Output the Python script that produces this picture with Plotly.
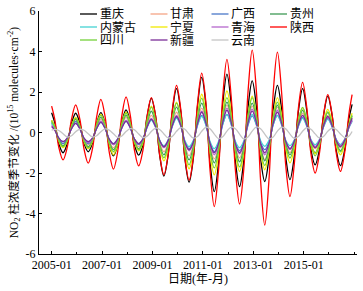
import plotly.graph_objects as go

# x positions: start (2005-01), then every second month (Feb, Apr, Jun, Aug, Oct, Dec)
YEARS = list(range(2005, 2017))
DATES = ["2005-01-01"]
for y in YEARS:
    for md in ["02-15", "04-15", "06-15", "08-15", "10-15", "12-15"]:
        DATES.append(f"{y}-{md}")
DATES[-1] = "2016-12-01"

NAMES = ["重庆", "甘肃", "广西", "贵州", "内蒙古", "宁夏", "青海", "陕西", "四川", "新疆", "云南"]
COLORS = ["#000000", "#F4A585", "#4A78C8", "#3E9A55", "#45D3D3", "#F2EA00",
          "#B566CC", "#FF0000", "#74D13A", "#7A2E98", "#C4C4C4"]

# values: Jan-2005, then per year Feb, Apr, Jun, Aug, Oct, Dec
chongqing = [0.98,
    0.49, -0.55, -1.00, -0.55, 0.43, 0.95,
    0.43, -0.53, -0.95, -0.53, 0.44, 0.98,
    0.44, -0.63, -1.15, -0.63, 0.51, 1.11,
    0.51, -0.61, -1.12, -0.61, 0.80, 1.69,
    0.80, -1.13, -2.15, -1.13, 1.04, 2.17,
    1.04, -1.28, -2.45, -1.28, 1.31, 2.72,
    1.31, -1.51, -2.92, -1.51, 1.39, 2.88,
    1.39, -1.39, -2.67, -1.39, 1.23, 2.55,
    1.23, -1.26, -2.42, -1.26, 1.12, 2.33,
    1.12, -1.22, -2.33, -1.22, 1.04, 2.17,
    1.04, -0.85, -1.60, -0.85, 0.85, 1.80,
    0.85, -0.87, -1.64, -0.87, 0.65, 1.39]
gansu = [0.45,
    0.20, -0.33, -0.55, -0.33, 0.23, 0.55,
    0.23, -0.35, -0.60, -0.35, 0.28, 0.65,
    0.28, -0.43, -0.75, -0.43, 0.33, 0.75,
    0.33, -0.40, -0.70, -0.40, 0.38, 0.85,
    0.38, -0.53, -0.95, -0.53, 0.45, 1.00,
    0.45, -0.63, -1.15, -0.63, 0.55, 1.20,
    0.55, -0.70, -1.30, -0.70, 0.63, 1.35,
    0.63, -0.68, -1.25, -0.68, 0.60, 1.30,
    0.60, -0.72, -1.34, -0.72, 0.58, 1.25,
    0.58, -0.55, -1.00, -0.55, 0.43, 0.95,
    0.43, -0.45, -0.80, -0.45, 0.38, 0.85,
    0.38, -0.43, -0.75, -0.43, 0.30, 0.70]
guangxi = [0.50,
    0.23, -0.33, -0.55, -0.33, 0.23, 0.55,
    0.23, -0.33, -0.55, -0.33, 0.23, 0.55,
    0.23, -0.35, -0.60, -0.35, 0.25, 0.60,
    0.25, -0.35, -0.60, -0.35, 0.28, 0.65,
    0.28, -0.40, -0.70, -0.40, 0.33, 0.75,
    0.33, -0.45, -0.80, -0.45, 0.38, 0.85,
    0.38, -0.53, -0.95, -0.53, 0.40, 0.90,
    0.40, -0.50, -0.90, -0.50, 0.36, 0.82,
    0.36, -0.48, -0.85, -0.48, 0.38, 0.85,
    0.38, -0.45, -0.80, -0.45, 0.33, 0.75,
    0.33, -0.40, -0.70, -0.40, 0.30, 0.70,
    0.30, -0.35, -0.60, -0.35, 0.25, 0.60]
guizhou = [0.60,
    0.28, -0.38, -0.65, -0.38, 0.28, 0.65,
    0.28, -0.40, -0.70, -0.40, 0.33, 0.75,
    0.33, -0.48, -0.85, -0.48, 0.38, 0.85,
    0.38, -0.45, -0.80, -0.45, 0.48, 1.05,
    0.48, -0.60, -1.10, -0.60, 0.58, 1.25,
    0.58, -0.73, -1.35, -0.73, 0.68, 1.45,
    0.68, -0.80, -1.50, -0.80, 0.70, 1.50,
    0.70, -0.78, -1.45, -0.78, 0.68, 1.45,
    0.68, -0.75, -1.40, -0.75, 0.63, 1.35,
    0.63, -0.60, -1.10, -0.60, 0.50, 1.10,
    0.50, -0.55, -1.00, -0.55, 0.45, 1.00,
    0.45, -0.50, -0.90, -0.50, 0.35, 0.80]
neimenggu = [0.45,
    0.20, -0.28, -0.45, -0.28, 0.18, 0.45,
    0.18, -0.30, -0.50, -0.30, 0.20, 0.50,
    0.20, -0.33, -0.55, -0.33, 0.23, 0.55,
    0.23, -0.33, -0.55, -0.33, 0.25, 0.60,
    0.25, -0.38, -0.65, -0.38, 0.30, 0.70,
    0.30, -0.40, -0.70, -0.40, 0.35, 0.80,
    0.35, -0.45, -0.80, -0.45, 0.40, 0.90,
    0.40, -0.43, -0.75, -0.43, 0.40, 0.90,
    0.40, -0.39, -0.68, -0.39, 0.38, 0.85,
    0.38, -0.38, -0.65, -0.38, 0.30, 0.70,
    0.30, -0.35, -0.60, -0.35, 0.28, 0.65,
    0.28, -0.35, -0.60, -0.35, 0.23, 0.55]
ningxia = [0.60,
    0.30, -0.43, -0.75, -0.43, 0.33, 0.75,
    0.33, -0.45, -0.80, -0.45, 0.40, 0.90,
    0.40, -0.60, -1.10, -0.60, 0.45, 1.00,
    0.45, -0.50, -0.90, -0.50, 0.60, 1.30,
    0.60, -0.75, -1.40, -0.75, 0.70, 1.50,
    0.70, -0.95, -1.80, -0.95, 0.90, 1.89,
    0.90, -1.10, -2.09, -1.10, 0.98, 2.05,
    0.98, -1.01, -1.92, -1.01, 0.85, 1.80,
    0.85, -0.97, -1.84, -0.97, 0.81, 1.72,
    0.81, -0.80, -1.50, -0.80, 0.57, 1.23,
    0.57, -0.58, -1.05, -0.58, 0.52, 1.14,
    0.52, -0.60, -1.10, -0.60, 0.43, 0.95]
qinghai = [0.35,
    0.15, -0.28, -0.45, -0.28, 0.18, 0.45,
    0.18, -0.30, -0.50, -0.30, 0.23, 0.55,
    0.23, -0.35, -0.60, -0.35, 0.25, 0.60,
    0.25, -0.33, -0.55, -0.33, 0.30, 0.70,
    0.30, -0.43, -0.75, -0.43, 0.38, 0.85,
    0.38, -0.50, -0.90, -0.50, 0.48, 1.05,
    0.48, -0.60, -1.10, -0.60, 0.55, 1.20,
    0.55, -0.58, -1.05, -0.58, 0.53, 1.15,
    0.53, -0.60, -1.10, -0.60, 0.50, 1.10,
    0.50, -0.48, -0.85, -0.48, 0.38, 0.85,
    0.38, -0.40, -0.70, -0.40, 0.33, 0.75,
    0.33, -0.38, -0.65, -0.38, 0.25, 0.60]
shaanxi = [1.30,
    0.66, -0.73, -1.35, -0.73, 0.63, 1.36,
    0.63, -0.81, -1.51, -0.81, 0.77, 1.64,
    0.77, -0.96, -1.81, -0.96, 0.83, 1.76,
    0.83, -0.88, -1.65, -0.88, 0.81, 1.72,
    0.81, -1.10, -2.09, -1.10, 1.12, 2.33,
    1.12, -1.23, -2.35, -1.23, 1.42, 2.93,
    1.42, -1.88, -3.66, -1.88, 1.76, 3.61,
    1.76, -1.82, -3.53, -1.82, 1.99, 4.07,
    1.99, -2.34, -4.57, -2.34, 1.94, 3.97,
    1.94, -1.63, -3.16, -1.63, 1.19, 2.48,
    1.19, -1.05, -2.00, -1.05, 0.89, 1.87,
    0.89, -1.01, -1.92, -1.01, 0.89, 1.87]
sichuan = [0.55,
    0.28, -0.40, -0.70, -0.40, 0.30, 0.70,
    0.30, -0.43, -0.75, -0.43, 0.38, 0.85,
    0.38, -0.53, -0.95, -0.53, 0.43, 0.95,
    0.43, -0.48, -0.85, -0.48, 0.58, 1.25,
    0.58, -0.68, -1.25, -0.68, 0.68, 1.45,
    0.68, -0.85, -1.60, -0.85, 0.80, 1.70,
    0.80, -0.93, -1.75, -0.93, 0.81, 1.72,
    0.81, -0.90, -1.70, -0.90, 0.81, 1.72,
    0.81, -0.87, -1.63, -0.87, 0.70, 1.50,
    0.70, -0.68, -1.26, -0.68, 0.57, 1.24,
    0.57, -0.63, -1.15, -0.63, 0.45, 1.00,
    0.45, -0.53, -0.95, -0.53, 0.38, 0.85]
xinjiang = [0.30,
    0.12, -0.28, -0.45, -0.28, 0.18, 0.45,
    0.18, -0.28, -0.45, -0.28, 0.20, 0.50,
    0.20, -0.33, -0.55, -0.33, 0.23, 0.55,
    0.23, -0.33, -0.55, -0.33, 0.28, 0.65,
    0.28, -0.40, -0.70, -0.40, 0.35, 0.80,
    0.35, -0.48, -0.85, -0.48, 0.45, 1.00,
    0.45, -0.55, -1.00, -0.55, 0.50, 1.10,
    0.50, -0.55, -1.00, -0.55, 0.48, 1.06,
    0.48, -0.55, -1.00, -0.55, 0.45, 1.00,
    0.45, -0.45, -0.80, -0.45, 0.38, 0.85,
    0.38, -0.43, -0.75, -0.43, 0.35, 0.80,
    0.35, -0.40, -0.70, -0.40, 0.30, 0.70]
yunnan = [0.12,
    0.15, 0.10, -0.06, -0.22, -0.16, 0.04,
    0.16, 0.11, -0.06, -0.22, -0.16, 0.04,
    0.18, 0.12, -0.06, -0.24, -0.17, 0.05,
    0.19, 0.13, -0.07, -0.25, -0.18, 0.05,
    0.22, 0.15, -0.07, -0.27, -0.19, 0.06,
    0.24, 0.16, -0.08, -0.28, -0.20, 0.06,
    0.26, 0.18, -0.08, -0.30, -0.21, 0.07,
    0.27, 0.19, -0.08, -0.31, -0.22, 0.07,
    0.28, 0.19, -0.08, -0.31, -0.22, 0.07,
    0.26, 0.18, -0.08, -0.29, -0.20, 0.06,
    0.24, 0.16, -0.07, -0.27, -0.19, 0.06,
    0.22, 0.15, -0.07, -0.25, -0.18, 0.05]

SERIES = [chongqing, gansu, guangxi, guizhou, neimenggu, ningxia, qinghai,
          shaanxi, sichuan, xinjiang, yunnan]

X_TICKS = ["2005-01-01", "2007-01-01", "2009-01-01", "2011-01-01", "2013-01-01", "2015-01-01"]
X_LABELS = ["2005-01", "2007-01", "2009-01", "2011-01", "2013-01", "2015-01"]
Y_TICKS = [-6, -4, -2, 0, 2, 4, 6]
Y_LABELS = ["-6", "-4", "-2", "0", "2", "4", "6"]

FONT = "Liberation Serif, Noto Sans CJK SC, serif"
W, H = 363, 291
ML, MR, MT, MB = 39, 6, 11, 37
PW = W - ML - MR
PH = H - MT - MB

fig = go.Figure()
for name, vals, col in zip(NAMES, SERIES, COLORS):
    fig.add_trace(go.Scatter(x=DATES, y=vals, name=name, mode="lines",
                             line=dict(color=col, width=1.3, shape="spline", smoothing=1.0),
                             showlegend=False))

# custom legend (4 columns x 3 rows)
col_x = [80, 150.5, 211.5, 270]
row_y = [14, 27, 40]


def px(v):
    return (v - ML) / PW


def py(v):
    return (H - MB - v) / PH


shapes = []
annotations = []
for i, (name, col) in enumerate(zip(NAMES, COLORS)):
    c, r = i % 4, i // 4
    x0 = col_x[c]
    x1 = x0 + 17
    yy = row_y[r]
    shapes.append(dict(type="line", xref="paper", yref="paper",
                       x0=px(x0), x1=px(x1), y0=py(yy), y1=py(yy),
                       line=dict(color=col, width=1.3)))
    annotations.append(dict(xref="paper", yref="paper", x=px(x1 + 0.5), y=py(yy),
                            xanchor="left", yanchor="middle", text=name, showarrow=False,
                            font=dict(family=FONT, size=12, color="#000")))

fig.update_layout(
    width=W, height=H,
    margin=dict(l=ML, r=MR, t=MT, b=MB),
    paper_bgcolor="white", plot_bgcolor="white",
    font=dict(family=FONT, size=12, color="#000"),
    shapes=shapes, annotations=annotations,
    xaxis=dict(range=["2004-07-02", "2017-02-10"], tickvals=X_TICKS, ticktext=X_LABELS,
               ticks="inside", ticklen=3, tickcolor="#000", showline=True, linecolor="#000",
               linewidth=1, showgrid=False, zeroline=False, automargin=False,
               minor=dict(tick0="2005-01-01", dtick="M12", ticks="inside", ticklen=2,
                          tickcolor="#000", showgrid=False),
               tickfont=dict(size=12),
               title=dict(text="日期(年-月)", font=dict(size=12), standoff=1)),
    yaxis=dict(range=[-6, 6], tickvals=Y_TICKS, ticktext=Y_LABELS,
               ticks="inside", ticklen=3, tickcolor="#000", showline=True, linecolor="#000",
               linewidth=1, showgrid=False, zeroline=False, automargin=False,
               tickfont=dict(size=12),
               title=dict(text="NO<sub>2</sub> 柱浓度季节变化 /(10<sup>15</sup> molecules·cm<sup>-2</sup>)",
                          font=dict(size=11.5), standoff=4)),
)

fig.write_html("out.html", config={"displayModeBar": False},
               post_script="document.body.style.margin='0';")
